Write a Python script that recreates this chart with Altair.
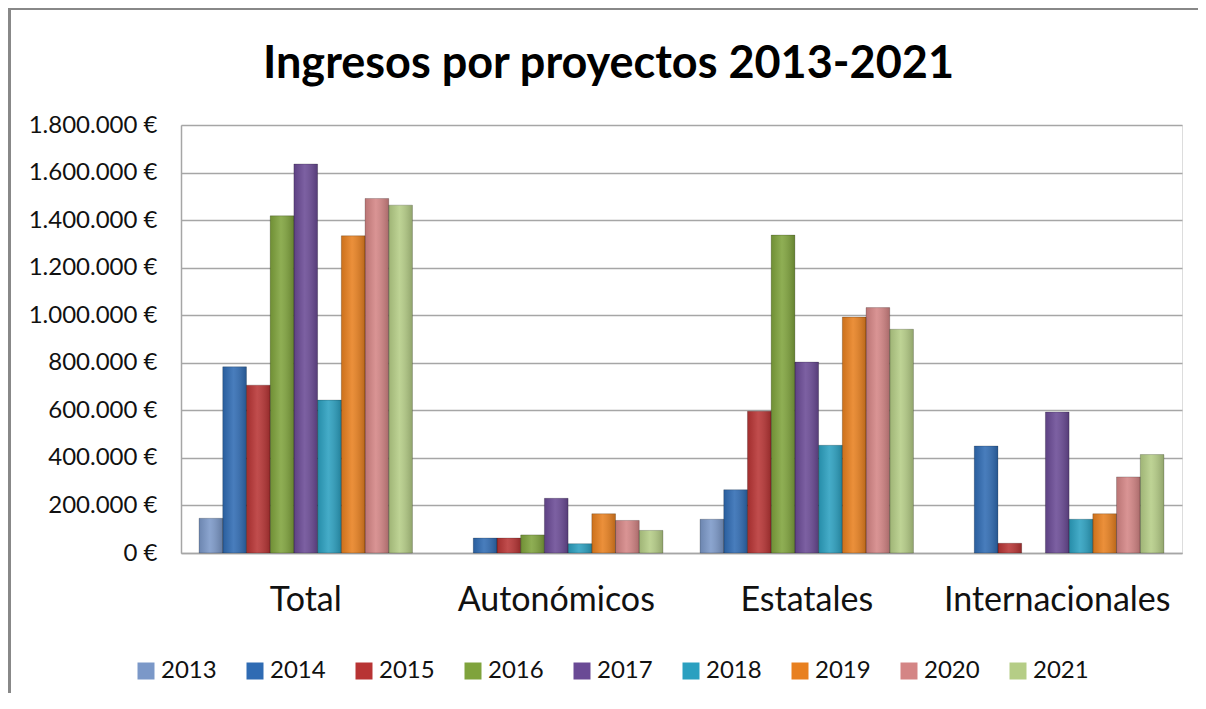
import altair as alt
import pandas as pd

categorias = ["Total", "Autonómicos", "Estatales", "Internacionales"]
anios = ["2013", "2014", "2015", "2016", "2017", "2018", "2019", "2020", "2021"]

# values per year, in the order of categorias
v2013 = [146000, 0, 142000, 0]
v2014 = [783000, 63000, 266000, 450000]
v2015 = [706000, 63000, 596000, 41000]
v2016 = [1418000, 76000, 1337000, 0]
v2017 = [1636000, 230000, 803000, 593000]
v2018 = [643000, 39000, 453000, 142000]
v2019 = [1334000, 165000, 992000, 165000]
v2020 = [1491000, 137000, 1032000, 320000]
v2021 = [1463000, 95000, 941000, 414000]

colores = ["#7b98c8", "#2f6bb3", "#b83434", "#7fa33c", "#6a4a95",
           "#2ba0c0", "#e8801f", "#d48585", "#b5cd86"]

series = [v2013, v2014, v2015, v2016, v2017, v2018, v2019, v2020, v2021]
rows = []
for anio, vals in zip(anios, series):
    for cat, v in zip(categorias, vals):
        rows.append({"categoria": cat, "anio": anio, "valor": v})
df = pd.DataFrame(rows)

FONT = "Lato"
GRID = "#a6a6a6"

x_enc = alt.X("categoria:N", sort=categorias,
              scale=alt.Scale(paddingInner=0.148, paddingOuter=0.072),
              axis=alt.Axis(title=None, labelAngle=0, labelFontSize=34, labelFont=FONT,
                            labelColor="#111", labelPadding=30, ticks=False, labelLimit=500,
                            domainColor=GRID, domainWidth=1.5, labelBaseline="top"))
xo_enc = alt.XOffset("anio:N", sort=anios, scale=alt.Scale(paddingInner=0, paddingOuter=0))
y_enc = alt.Y("valor:Q", scale=alt.Scale(domain=[0, 1800000]),
              axis=alt.Axis(title=None, values=list(range(0, 1800001, 200000)),
                            labelExpr="replace(format(datum.value, ','), regexp(',', 'g'), '.') + ' €'",
                            labelFontSize=24, labelFont=FONT, labelColor="#111",
                            labelPadding=24, ticks=False, grid=True, gridColor=GRID,
                            gridWidth=1.5, domainColor=GRID, domainWidth=1.5))

bars = alt.Chart(df).mark_bar().encode(
    x=x_enc, xOffset=xo_enc, y=y_enc,
    color=alt.Color("anio:N", sort=anios,
                    scale=alt.Scale(domain=anios, range=colores),
                    legend=alt.Legend(title=None, orient="none", direction="horizontal",
                                      columns=9, legendX=-47, legendY=534,
                                      symbolType="square", symbolSize=289,
                                      symbolStrokeWidth=0, labelFontSize=24,
                                      labelFont=FONT, labelColor="#111", labelOffset=3,
                                      columnPadding=26)),
)

shade = alt.Chart(df).transform_filter("datum.valor > 0").mark_bar(
    fill=alt.Gradient(gradient="linear", x1=0, x2=1, y1=0, y2=0,
                      stops=[alt.GradientStop(offset=0, color="rgba(0,0,0,0.12)"),
                             alt.GradientStop(offset=0.45, color="rgba(255,255,255,0.12)"),
                             alt.GradientStop(offset=1, color="rgba(0,0,0,0.2)")]),
    stroke="rgba(0,0,0,0.2)", strokeWidth=1,
).encode(x=x_enc, xOffset=xo_enc, y=y_enc)

borde_sup = alt.Chart(df).mark_rule(color="#888888", strokeWidth=2.5).encode(
    x=alt.value(-172), x2=alt.value(1030), y=alt.value(-117))
borde_izq = alt.Chart(df).mark_rule(color="#888888", strokeWidth=2.5).encode(
    x=alt.value(-172), y=alt.value(-117), y2=alt.value(580))

chart = alt.layer(bars, shade, borde_sup, borde_izq).properties(
    width=1001, height=428,
    title=alt.TitleParams("Ingresos por proyectos 2013-2021", fontSize=45,
                          fontWeight="bold", font=FONT, color="#000",
                          anchor="middle", frame="group", dx=-73, offset=-80),
    autosize=alt.AutoSizeParams(type="none"),
    padding={"left": 173, "top": 117, "right": 16, "bottom": 140},
).configure_view(stroke=None).configure(background="white")

chart.save("out.html", embed_options={"renderer": "svg", "actions": False})
